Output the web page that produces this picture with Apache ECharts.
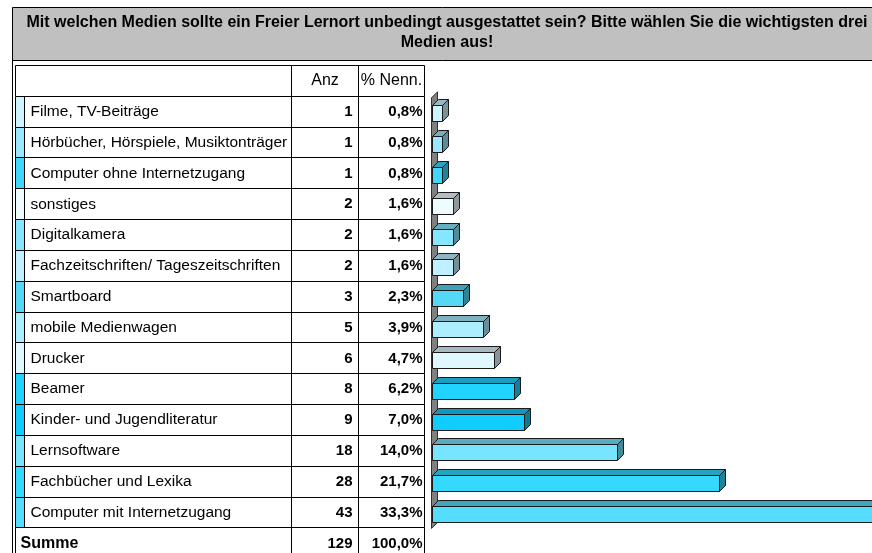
<!DOCTYPE html>
<html>
<head>
<meta charset="utf-8">
<style>
  html, body { margin: 0; padding: 0; background: #fff; }
  #chart { width: 872px; height: 553px; }
</style>
<script src="https://cdn.jsdelivr.net/npm/echarts@6/dist/echarts.min.js"></script>
</head>
<body>
<div id="chart"></div>
<script>
// Daten
const titleText = 'Mit welchen Medien sollte ein Freier Lernort unbedingt ausgestattet sein? Bitte wählen Sie die wichtigsten drei\nMedien aus!';
const headCount = 'Anz';
const headPercent = '% Nenn.';
const categories = [
  'Filme, TV-Beiträge',
  'Hörbücher, Hörspiele, Musiktonträger',
  'Computer ohne Internetzugang',
  'sonstiges',
  'Digitalkamera',
  'Fachzeitschriften/ Tageszeitschriften',
  'Smartboard',
  'mobile Medienwagen',
  'Drucker',
  'Beamer',
  'Kinder- und Jugendliteratur',
  'Lernsoftware',
  'Fachbücher und Lexika',
  'Computer mit Internetzugang'
];
const counts = [1, 1, 1, 2, 2, 2, 3, 5, 6, 8, 9, 18, 28, 43];
const percents = [0.8, 0.8, 0.8, 1.6, 1.6, 1.6, 2.3, 3.9, 4.7, 6.2, 7.0, 14.0, 21.7, 33.3];
const sumLabel = 'Summe';
const sumCount = 129;
const sumPercent = 100.0;

// Farben je Zeile (Streifen + Balken)
const rowColors = [
  '#cdf5ff', '#9ae8ff', '#3ed8ff', '#eefbff', '#87e6ff', '#c0f0ff', '#55d8f5',
  '#aaeeff', '#dff7ff', '#22d3ff', '#11ccff', '#77e5ff', '#33d9ff', '#55ddff'
];

const rowKeys = ['head'].concat(categories, ['sum']);
// Spaltengrenzen der Tabelle (in Einheiten der x-Achse = px ab linkem Rand)
const colEdges = [0, 9, 276, 342.5, 409];
const FONT = '"Liberation Sans", Arial, sans-serif';

const fmtPct = (v) => v.toFixed(1).replace('.', ',') + '%';

function shade(hex, f) {
  const n = parseInt(hex.slice(1), 16);
  const r = Math.round(((n >> 16) & 255) * f);
  const g = Math.round(((n >> 8) & 255) * f);
  const b = Math.round((n & 255) * f);
  return 'rgb(' + r + ',' + g + ',' + b + ')';
}

const px = (v) => Math.round(v) + 0.5;

const tableData = rowKeys.map((k, i) => [i]);
const barData = counts.map((c, i) => [c, i + 1]);

function renderRow(params, api) {
  const idx = api.value(0);
  const h = api.size([0, 1])[1];
  const cy = api.coord([0, idx])[1];
  const top = px(cy - h / 2);
  const xs = colEdges.map((e) => px(api.coord([e, idx])[0]));
  const bottom = px(cy + h / 2);
  const ty = cy + 0.5;
  const line = (x1, y1, x2, y2) => ({
    type: 'line',
    shape: { x1: x1, y1: y1, x2: x2, y2: y2 },
    style: { stroke: '#000', lineWidth: 1 }
  });
  const text = (t, x, align, bold, size) => ({
    type: 'text',
    style: {
      text: t, x: x, y: ty, align: align, verticalAlign: 'middle',
      fontSize: size, fontFamily: FONT, fontWeight: bold ? 'bold' : 'normal', fill: '#000'
    }
  });
  const children = [];
  const isHead = idx === 0;
  const isSum = idx === rowKeys.length - 1;
  if (!isHead && !isSum) {
    children.push({
      type: 'rect',
      shape: { x: xs[0], y: top, width: xs[1] - xs[0], height: bottom - top },
      style: { fill: rowColors[idx - 1] }
    });
    children.push(line(xs[1], top, xs[1], bottom));
    children.push(text(categories[idx - 1], xs[1] + 6, 'left', false, 15.5));
    children.push(text(String(counts[idx - 1]), xs[3] - 6, 'right', true, 15));
    children.push(text(fmtPct(percents[idx - 1]), xs[4] - 2, 'right', true, 15));
  } else if (isHead) {
    children.push(text(headCount, (xs[2] + xs[3]) / 2, 'center', false, 16));
    children.push(text(headPercent, (xs[3] + xs[4]) / 2, 'center', false, 16));
  } else {
    children.push(text(sumLabel, xs[0] + 5, 'left', true, 16));
    children.push(text(String(sumCount), xs[3] - 6, 'right', true, 15));
    children.push(text(fmtPct(sumPercent), xs[4] - 2, 'right', true, 15));
  }
  children.push(line(xs[0], top, xs[4], top));
  children.push(line(xs[0], top, xs[0], bottom));
  children.push(line(xs[2], top, xs[2], bottom));
  children.push(line(xs[3], top, xs[3], bottom));
  children.push(line(xs[4], top, xs[4], bottom));
  return { type: 'group', children: children };
}

const DEPTH = 6;

function renderWall(params, api) {
  const cs = params.coordSys;
  const h = api.size([0, 1])[1];
  const yTop = api.coord([0, 1])[1] - h / 2 + 2;
  const yBot = api.coord([0, categories.length])[1] + h / 2 + 1;
  const x0 = px(cs.x) - 1;
  return {
    type: 'polygon',
    shape: { points: [[x0, yTop], [x0 + DEPTH, yTop - DEPTH], [x0 + DEPTH, yBot - DEPTH], [x0, yBot]] },
    style: { fill: '#808080', stroke: '#303030', lineWidth: 1 }
  };
}

function renderBar(params, api) {
  const v = api.value(0);
  const idx = api.value(1);
  const s = api.coord([0, idx]);
  const e = api.coord([v, idx]);
  const x0 = px(s[0]);
  const x1 = px(e[0]);
  const y0 = px(s[1] - 6);
  const hf = 16;
  const col = rowColors[idx - 1];
  const st = { stroke: '#1a1a1a', lineWidth: 1 };
  return {
    type: 'group',
    children: [
      {
        type: 'polygon',
        shape: { points: [[x0, y0], [x0 + DEPTH, y0 - DEPTH], [x1 + DEPTH, y0 - DEPTH], [x1, y0]] },
        style: Object.assign({ fill: shade(col, 0.75) }, st)
      },
      {
        type: 'polygon',
        shape: { points: [[x1, y0], [x1 + DEPTH, y0 - DEPTH], [x1 + DEPTH, y0 - DEPTH + hf], [x1, y0 + hf]] },
        style: Object.assign({ fill: shade(col, 0.6) }, st)
      },
      {
        type: 'rect',
        shape: { x: x0, y: y0, width: x1 - x0, height: hf },
        style: Object.assign({ fill: col }, st)
      }
    ]
  };
}

const chart = echarts.init(document.getElementById('chart'), null, { renderer: 'canvas' });

const rowH = 30.83;
const gridH = rowKeys.length * rowH;

chart.setOption({
  animation: false,
  backgroundColor: '#fff',
  graphic: [
    {
      type: 'rect',
      shape: { x: 12.5, y: 7.5, width: 880, height: 53 },
      style: { fill: '#c0c0c0', stroke: '#000', lineWidth: 1 },
      z: 1
    },
    {
      type: 'text',
      x: 447, y: 33,
      style: {
        text: titleText, align: 'center', verticalAlign: 'middle',
        fontSize: 16, fontWeight: 'bold', fontFamily: FONT, lineHeight: 20, fill: '#000'
      },
      z: 2
    },
    {
      type: 'line',
      shape: { x1: 12.5, y1: 60, x2: 12.5, y2: 553 },
      style: { stroke: '#000', lineWidth: 1 },
      z: 2
    }
  ],
  grid: [
    { left: 15, top: 65, width: 409, height: gridH, outerBoundsMode: 'none' },
    { left: 432, top: 65, width: 441, height: gridH, outerBoundsMode: 'none' }
  ],
  xAxis: [
    { type: 'value', gridIndex: 0, min: 0, max: 409, show: false },
    { type: 'value', gridIndex: 1, min: 0, max: 43, show: false }
  ],
  yAxis: [
    { type: 'category', gridIndex: 0, data: rowKeys, inverse: true, show: false },
    { type: 'category', gridIndex: 1, data: rowKeys, inverse: true, show: false }
  ],
  series: [
    {
      type: 'custom', xAxisIndex: 0, yAxisIndex: 0,
      data: tableData, renderItem: renderRow,
      encode: { x: -1, y: 0 }
    },
    {
      type: 'custom', xAxisIndex: 1, yAxisIndex: 1,
      data: [[0, 1]], renderItem: renderWall,
      encode: { x: 0, y: 1 }
    },
    {
      type: 'custom', xAxisIndex: 1, yAxisIndex: 1,
      data: barData, renderItem: renderBar,
      encode: { x: 0, y: 1 }
    }
  ]
});
</script>
</body>
</html>
